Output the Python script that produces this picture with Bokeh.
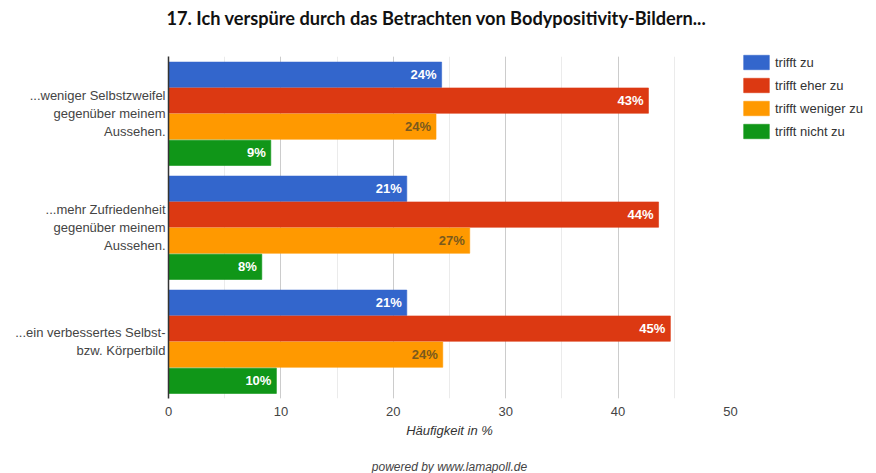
from bokeh.plotting import figure
from bokeh.models import FactorRange, Range1d, Legend, LegendItem, Title, SingleIntervalTicker, ColumnDataSource
from bokeh.transform import dodge
from bokeh.core.properties import value
from bokeh.embed import file_html
from bokeh.resources import INLINE

categories = [
    "...weniger Selbstzweifel\ngegenüber meinem\nAussehen.",
    "...mehr Zufriedenheit\ngegenüber meinem\nAussehen.",
    "...ein verbessertes Selbst-\nbzw. Körperbild",
]
series = ["trifft zu", "trifft eher zu", "trifft weniger zu", "trifft nicht zu"]
trifft_zu = [24.3, 21.2, 21.2]
trifft_eher_zu = [42.7, 43.6, 44.65]
trifft_weniger_zu = [23.8, 26.8, 24.4]
trifft_nicht_zu = [9.1, 8.3, 9.6]
series_values = [trifft_zu, trifft_eher_zu, trifft_weniger_zu, trifft_nicht_zu]

colors = ["#3366cc", "#dc3912", "#ff9900", "#109618"]
label_colors = ["#ffffff", "#ffffff", "#7a5a1e", "#ffffff"]
offsets = [0.34, 0.113, -0.115, -0.345]

FONT = "Liberation Sans"

p = figure(
    y_range=FactorRange(factors=list(reversed(categories))),
    x_range=Range1d(0, 50),
    frame_width=562, frame_height=342,
    min_border_left=168, min_border_right=0, min_border_top=0, min_border_bottom=0,
    output_backend="svg", toolbar_location=None,
)
p.outline_line_color = None
p.background_fill_color = "white"
p.border_fill_color = "white"
p.title = None

top_spacer = Title(text=" ", text_font_size="1px", standoff=21)
p.add_layout(top_spacer, "above")
title = Title(text="17. Ich verspüre durch das Betrachten von Bodypositivity-Bildern...",
              text_font="Lato", text_font_size="18.2px", text_font_style="bold",
              text_color="#111111", align="left", offset=-2, standoff=8)
p.add_layout(title, "above")

items = []
for i, (name, vals) in enumerate(zip(series, series_values)):
    src = ColumnDataSource(dict(cat=categories, val=vals, lab=[f"{v:.0f}%" for v in vals]))
    r = p.hbar(y=dodge("cat", offsets[i], range=p.y_range), left=0, right="val", height=0.222,
               source=src, fill_color=colors[i], line_color=colors[i], line_alpha=0.6)
    p.text(x="val", y=dodge("cat", offsets[i], range=p.y_range), text="lab", source=src,
           x_offset=-5, text_align="right", text_baseline="middle",
           text_font=value(FONT), text_font_size="13px", text_font_style="bold",
           text_color=label_colors[i])
    items.append(LegendItem(label=name, renderers=[r]))

legend = Legend(items=items, location=(10, 258))
legend.label_text_font = FONT
legend.label_text_font_size = "13px"
legend.label_text_color = "#333333"
legend.glyph_width = 32
legend.glyph_height = 18
legend.spacing = 5
legend.padding = 0
legend.margin = 0
legend.label_standoff = 3
legend.border_line_color = None
legend.background_fill_alpha = 0
legend.label_height = 18
p.add_layout(legend, "right")
p.min_border_right = 0

# x axis
p.xaxis.ticker = SingleIntervalTicker(interval=10, num_minor_ticks=2)
p.xaxis.axis_line_color = None
p.xaxis.major_tick_line_color = None
p.xaxis.minor_tick_line_color = None
p.xaxis.major_tick_out = 0
p.xaxis.minor_tick_out = 0
p.xaxis.major_label_text_font = FONT
p.xaxis.major_label_text_font_size = "13px"
p.xaxis.major_label_text_color = "#444444"
p.xaxis.major_label_standoff = 8
p.xaxis.axis_label = "Häufigkeit in %"
p.xaxis.axis_label_text_font = FONT
p.xaxis.axis_label_text_font_size = "13px"
p.xaxis.axis_label_text_font_style = "italic"
p.xaxis.axis_label_text_color = "#333333"
p.xaxis.axis_label_standoff = 4

p.xgrid.ticker = SingleIntervalTicker(interval=10, num_minor_ticks=2)
p.xgrid.grid_line_color = "#cccccc"
p.xgrid.minor_grid_line_color = "#ebebeb"
p.ygrid.grid_line_color = None

# y axis
p.yaxis.axis_line_color = "#333333"
p.yaxis.axis_line_width = 1.5
p.yaxis.major_tick_line_color = None
p.yaxis.minor_tick_line_color = None
p.yaxis.major_tick_out = 0
p.yaxis.minor_tick_out = 0
p.yaxis.major_label_text_font = FONT
p.yaxis.major_label_text_font_size = "13px"
p.yaxis.major_label_text_color = "#444444"
p.yaxis.major_label_standoff = 3

spacer = Title(text=" ", text_font_size="1px", standoff=13)
p.add_layout(spacer, "below")
footer = Title(text="powered by www.lamapoll.de", align="center", text_font=FONT,
               text_font_size="12px", text_font_style="italic", text_color="#444444",
               standoff=2)
p.add_layout(footer, "below")

open("out.html", "w").write(file_html(p, INLINE))
